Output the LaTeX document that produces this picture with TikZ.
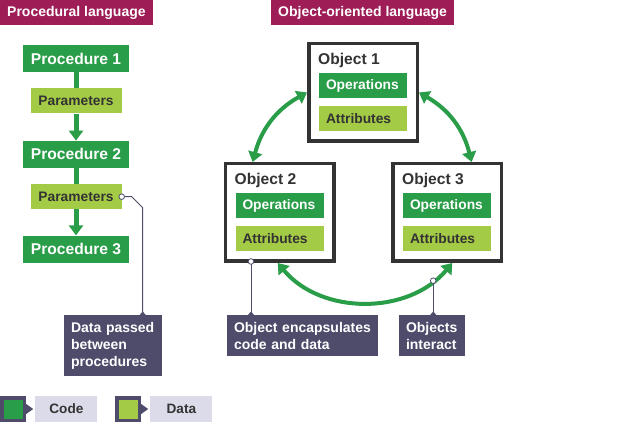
\documentclass[tikz,border=0pt]{standalone}
\usepackage{fontspec}
\setmainfont{Liberation Sans}
\usetikzlibrary{positioning,arrows.meta}
\definecolor{titlered}{HTML}{9E1D57}
\definecolor{codegreen}{HTML}{2A9D49}
\definecolor{datagreen}{HTML}{A4CB45}
\definecolor{slate}{HTML}{4E4B6B}
\definecolor{lavender}{HTML}{DCDBE9}
\definecolor{ink}{HTML}{333333}
\tikzset{
    heading/.style={fill=titlered,text=white,font=\fontsize{14}{17}\selectfont\bfseries,inner xsep=7pt,inner ysep=0pt,minimum height=25pt,anchor=north west},
    procbox/.style={fill=codegreen,text=white,font=\fontsize{15.6}{18}\selectfont\bfseries,minimum width=106pt,minimum height=27pt,inner sep=0pt},
    parbox/.style={fill=datagreen,text=ink,font=\fontsize{13.8}{16}\selectfont\bfseries,minimum width=91pt,minimum height=25pt,inner sep=0pt},
    objbox/.style={draw=ink,line width=3.5pt,fill=white,minimum width=108.5pt,minimum height=97.5pt},
    objtitle/.style={text=ink,font=\fontsize{15.6}{18}\selectfont\bfseries,inner sep=0pt,anchor=base west},
    slot/.style={font=\fontsize{13.8}{16}\selectfont\bfseries,text width=74pt,align=left,inner xsep=7pt,inner ysep=0pt,minimum height=25pt},
    ops/.style={slot,fill=codegreen,text=white},
    attrs/.style={slot,fill=datagreen,text=ink},
    flow/.style={draw=codegreen,line width=5pt},
    link/.style={draw=codegreen,line width=4pt,<->},
    callout/.style={fill=slate,text=white,font=\fontsize{14}{17}\selectfont\bfseries,align=left,inner xsep=7pt,inner ysep=7pt,anchor=north},
    pointer/.style={draw=slate,line width=1pt},
    dot/.style={draw=slate,fill=white,line width=0.8pt},
    keybox/.style={fill=slate,minimum size=26pt,inner sep=0pt},
    keylabel/.style={fill=lavender,text=ink,font=\fontsize{13.6}{16}\selectfont\bfseries,minimum width=62pt,minimum height=26pt,inner sep=0pt}
}
\begin{document}
\begin{tikzpicture}[x=1pt,y=1pt,>={Triangle[length=10pt,width=14pt]}]
        \useasboundingbox (0,0) rectangle (624,-422);
        \node[heading] (proctitle) at (0,0) {Procedural language};
        \node[heading] (objtitle) at (271,0) {Object-oriented language};
        % procedural side
        \node[procbox] (p1) at (76,-58.5) {Procedure 1};
        \node[parbox, below=16pt of p1] (par1) {Parameters};
        \node[procbox, below=27pt of par1] (p2) {Procedure 2};
        \node[parbox, below=16pt of p2] (par2) {Parameters};
        \node[procbox, below=26pt of par2] (p3) {Procedure 3};
        \draw[flow] (p1) -- (par1);
        \draw[flow,->] (par1) -- (p2);
        \draw[flow] (p2) -- (par2);
        \draw[flow,->] (par2) -- (p3);
        % objects
        \foreach \n/\x/\y in {1/363/-92.5, 2/279.5/-212.5, 3/447/-212.5} {
            \node[objbox] (o\n) at (\x,\y) {};
            \node[objtitle] at ([shift={(11,-23)}]o\n.north west) {Object \n};
            \node[ops] at ([yshift=7pt]o\n.center) {Operations};
            \node[attrs] at ([yshift=-26pt]o\n.center) {Attributes};
        }
        \draw[link] (o1.west) to[bend right=23] (o2.118);
        \draw[link] (o1.east) to[bend left=23] (o3.64);
        \draw[link] (o2.268) to[bend right=50] coordinate[pos=0.87] (meet) (o3.276);
        % callouts
        \node[callout, text width=84pt] (passed) at (113,-315) {Data passed\\between\\procedures};
        \node[callout, text width=137pt] (encaps) at (302.5,-315) {Object encapsulates\\code and data};
        \node[callout, text width=52pt] (interact) at (432,-315) {Objects\\interact};
        \draw[pointer] (par2.east) -- ++(10,0) -- ++(11,-11) coordinate (kink) -- (kink |- passed.north) coordinate (tipA);
        \draw[pointer] ([shift={(-28.5,1.5)}]o2.south) coordinate (enc) -- (enc |- encaps.north) coordinate (tipB);
        \draw[pointer] (meet) -- (meet |- interact.north) coordinate (tipC);
        \foreach \t in {tipA,tipB,tipC}
            \fill[slate] (\t) ++(-3.5,-0.5) -- ++(3.5,4) -- ++(3.5,-4) -- cycle;
        \draw[dot] (par2.east) circle (2.8);
        \draw[dot] (enc) circle (2.8);
        \draw[dot] (meet) circle (2.8);
        % key
        \node[keybox] (codekey) at (13,-409) {};
        \node[fill=codegreen, minimum size=19pt, inner sep=0pt] at (codekey) {};
        \fill[slate] (codekey.east) ++(0,5) -- ++(7,-5) -- ++(-7,-5) -- cycle;
        \node[keylabel, right=9pt of codekey] (codelabel) {Code};
        \node[keybox] (datakey) at (128,-409) {};
        \node[fill=datagreen, minimum size=19pt, inner sep=0pt] at (datakey) {};
        \fill[slate] (datakey.east) ++(0,5) -- ++(7,-5) -- ++(-7,-5) -- cycle;
        \node[keylabel, right=9pt of datakey] (datalabel) {Data};
    \end{tikzpicture}
\end{document}
